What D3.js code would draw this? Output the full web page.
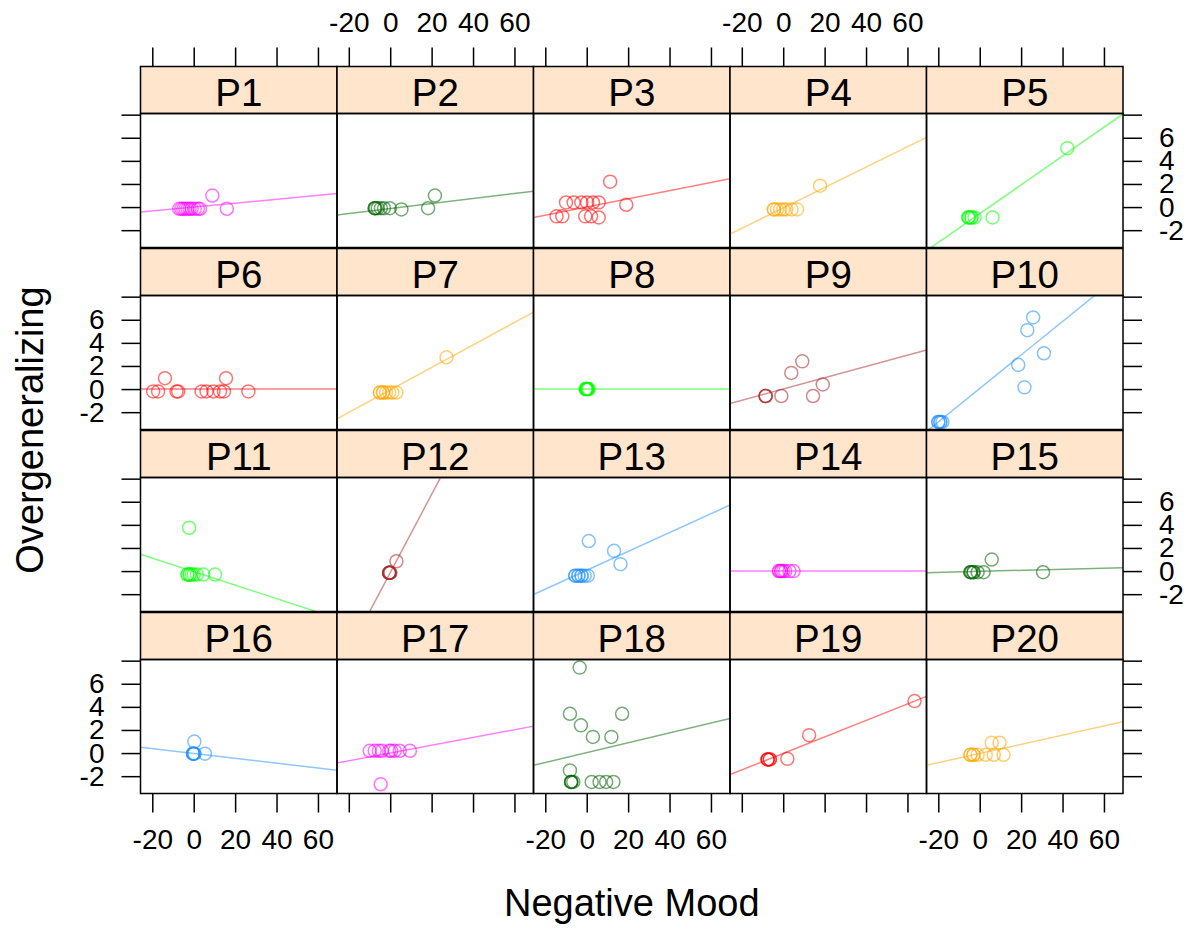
<!DOCTYPE html>
<html>
<head>
<meta charset="utf-8">
<script src="https://cdn.jsdelivr.net/npm/d3@7"></script>
<style>
  body { margin: 0; background: #fff; }
  text { font-family: "Liberation Sans", Arial, sans-serif; }
</style>
</head>
<body>
<script>
var panelNames = ["P1","P2","P3","P4","P5","P6","P7","P8","P9","P10",
                  "P11","P12","P13","P14","P15","P16","P17","P18","P19","P20"];

var panelColors = ["#FF00FF","#006400","#FF0000","#FFA500","#00FF00",
                   "#FF0000","#FFA500","#00FF00","#A52A2A","#1E90FF",
                   "#00FF00","#A52A2A","#1E90FF","#FF00FF","#006400",
                   "#1E90FF","#FF00FF","#006400","#FF0000","#FFA500"];

// negative mood (x) per participant
var negMood = [
  [-7,-6,-5,-4,-3,-2,-1,0.5,2,3,9,16],
  [-7.5,-7.5,-7,-6,-4.5,-3,-0.2,5.4,18.3,21.6],
  [-14.6,-11.8,-10,-6.3,-2.6,-0.7,0.2,2.1,3,5.8,5.8,11.3,19.1],
  [-4.5,-4.5,-3,-1.5,0,1.5,4,6.7,17.8],
  [-5.5,-5.5,-5,-4,-4,-2.5,6.2,42.3],
  [-19.6,-17.2,-13.9,-8.3,-7.5,3.8,6.2,9.5,12.7,14.6,15.6,26.4],
  [-5,-5,-3.5,-3.5,-2,-0.5,1,3,27.2],
  [-0.5,-0.5,0,0,0,0.5,0.5,1],
  [-8.5,-8.5,-8.5,-0.9,3.9,9.2,14.4,19.1],
  [-20,-20,-19,-19,-18,18.6,21.6,23,25.8,31],
  [-2.2,-3,-3,-2,-2,-1,0,1.5,4.6,10.3],
  [-0.5,-0.5,-0.5,-0.5,0,0,3],
  [-5.5,-5.5,-4,-4,-2.5,-2.5,-1,0.5,1,13.2,16.3],
  [-2,-2,-1,-1,0,1,3,5],
  [-4.5,-4.5,-4,-3,-3,-1,1.9,5.8,30.6],
  [-0.3,-0.3,-0.3,0.3,0.3,0.3,5.4],
  [-9.9,-7.5,-5.5,-4,-0.5,0.5,2.2,4.6,9.5,-4.6],
  [-3.4,-8.1,-2.8,3,11.9,17.1,-8.1,-7.5,-7.5,-7.5,-6.5,2.4,6.2,9.4,12.9],
  [-7.5,-7.5,-7.5,-6.5,-6.5,2,12.5,63.4],
  [-4.5,-4.5,-3,-3,-1,2.9,6.8,11.5,5.8,9.6]
];

// overgeneralizing (y) per participant
var overgen = [
  [-0.15,-0.15,-0.15,-0.15,-0.15,-0.15,-0.15,-0.15,-0.15,-0.15,1.0,-0.15],
  [-0.1,-0.1,-0.1,-0.1,-0.1,-0.1,-0.1,-0.2,-0.1,1.0],
  [-0.8,-0.8,0.4,0.4,0.4,-0.8,0.4,-0.8,0.4,0.4,-0.9,2.2,0.2],
  [-0.2,-0.2,-0.2,-0.2,-0.2,-0.2,-0.2,-0.2,1.85],
  [-0.9,-0.9,-0.9,-0.9,-0.9,-0.9,-0.9,5.1],
  [-0.2,-0.2,0.94,-0.2,-0.2,-0.2,-0.2,-0.2,-0.2,-0.2,0.94,-0.2],
  [-0.3,-0.3,-0.3,-0.3,-0.3,-0.3,-0.3,-0.3,2.75],
  [0,0,0,0,0,0,0,0],
  [-0.6,-0.6,-0.6,-0.6,1.4,2.4,-0.6,0.4],
  [-2.85,-2.85,-2.85,-2.85,-2.85,2.1,0.15,5.1,6.2,3.1],
  [3.75,-0.3,-0.3,-0.3,-0.3,-0.3,-0.3,-0.3,-0.3,-0.3],
  [-0.15,-0.15,-0.15,-0.15,-0.15,-0.15,0.85],
  [-0.4,-0.4,-0.4,-0.4,-0.4,-0.4,-0.4,-0.4,2.6,1.75,0.6],
  [0,0,0,0,0,0,0,0],
  [-0.1,-0.1,-0.1,-0.1,-0.1,-0.1,-0.1,1.0,-0.1],
  [-0.05,-0.05,-0.05,-0.05,-0.05,1.0,-0.05],
  [0.2,0.2,0.2,0.2,0.2,0.2,0.2,0.2,0.2,-2.7],
  [7.4,3.4,2.4,1.4,1.4,3.4,-1.5,-2.5,-2.5,-2.5,-2.5,-2.5,-2.5,-2.5,-2.5],
  [-0.55,-0.55,-0.55,-0.55,-0.55,-0.5,1.55,4.5],
  [-0.15,-0.15,-0.15,-0.15,-0.15,-0.15,-0.15,-0.15,0.9,0.9]
];

// fitted regression line per participant
var fitSlope = [0.0169,0.0217,0.0355,0.0882,0.1247,
                0,0.0973,0,0.0488,0.145,
                -0.0584,0.339,0.0816,0,0.0045,
                -0.0211,0.0337,0.0428,0.0713,0.0397];
var fitIntercept = [0,-0.13,0,-0.07,-0.57,
                    0,-0.07,0,0,0.05,
                    -0.05,-0.14,0.07,0,-0.02,
                    -0.03,0,0.04,-0.03,-0.04];

var xTicks = [-20, 0, 20, 40, 60];
var yTickMarks = [-2, 0, 2, 4, 6, 8];

onload = function () {

  var width = 1198,
      height = 930;

  var svg = d3.select("body").append("svg")
              .attr("width", width)
              .attr("height", height);

  var left = 140.5, colW = 196.5,
      top0 = 66.5, rowStep = 182,
      stripH = 47, panelH = 134,
      nCol = 5, nRow = 4;

  var xDomain = [-25.7, 69.2],
      yDomain = [-3.5, 8.1];

  var xScale = d3.scaleLinear().domain(xDomain).range([0, colW]);
  var yScale = d3.scaleLinear().domain(yDomain).range([panelH, 0]);

  var defs = svg.append("defs");

  panelNames.forEach(function (name, i) {
    var col = i % nCol,
        row = Math.floor(i / nCol);
    var g = svg.append("g")
      .attr("transform", "translate(" + (left + col * colW) + "," + (top0 + row * rowStep) + ")");

    // strip
    g.append("rect")
      .attr("width", colW).attr("height", stripH)
      .attr("fill", "#FFE5CC")
      .attr("stroke", "#000").attr("stroke-width", 1.5);
    g.append("text")
      .attr("x", colW / 2).attr("y", 39.5)
      .attr("text-anchor", "middle")
      .attr("font-size", 38.5)
      .attr("fill", "#000")
      .text(name);

    defs.append("clipPath").attr("id", "clip" + i)
      .append("rect").attr("width", colW).attr("height", panelH);

    var p = g.append("g").attr("transform", "translate(0," + stripH + ")");
    var inner = p.append("g").attr("clip-path", "url(#clip" + i + ")");

    var pts = negMood[i].map(function (x, j) { return [x, overgen[i][j]]; });

    inner.append("line")
      .attr("x1", xScale(xDomain[0]))
      .attr("y1", yScale(fitIntercept[i] + fitSlope[i] * xDomain[0]))
      .attr("x2", xScale(xDomain[1]))
      .attr("y2", yScale(fitIntercept[i] + fitSlope[i] * xDomain[1]))
      .attr("stroke", panelColors[i])
      .attr("stroke-opacity", 0.5)
      .attr("stroke-width", 1.5);

    inner.selectAll("circle")
      .data(pts)
      .enter().append("circle")
      .attr("cx", function (d) { return xScale(d[0]); })
      .attr("cy", function (d) { return yScale(d[1]); })
      .attr("r", 6.5)
      .attr("fill", "none")
      .attr("stroke", panelColors[i])
      .attr("stroke-opacity", 0.55)
      .attr("stroke-width", 1.5);

    p.append("rect")
      .attr("width", colW).attr("height", panelH)
      .attr("fill", "none")
      .attr("stroke", "#000").attr("stroke-width", 1.5);

    // left / right axes, labels on alternate rows
    if (col == 0) {
      var la = p.append("g").call(d3.axisLeft(yScale).tickValues(yTickMarks).tickSize(19).tickPadding(17)
        .tickFormat(function (d) { return (row % 2 == 1 && d != 8) ? d : ""; }));
      styleAxis(la);
    }
    if (col == nCol - 1) {
      var ra = p.append("g").attr("transform", "translate(" + colW + ",0)")
        .call(d3.axisRight(yScale).tickValues(yTickMarks).tickSize(19).tickPadding(17)
        .tickFormat(function (d) { return (row % 2 == 0 && d != 8) ? d : ""; }));
      styleAxis(ra);
    }
    // top / bottom axes, labels on alternate columns
    if (row == 0) {
      var ta = g.append("g").call(d3.axisTop(xScale).tickValues(xTicks).tickSize(19).tickPadding(16)
        .tickFormat(function (d) { return col % 2 == 1 ? d : ""; }));
      styleAxis(ta);
    }
    if (row == nRow - 1) {
      var ba = p.append("g").attr("transform", "translate(0," + panelH + ")")
        .call(d3.axisBottom(xScale).tickValues(xTicks).tickSize(19).tickPadding(17)
        .tickFormat(function (d) { return col % 2 == 0 ? d : ""; }));
      styleAxis(ba);
    }
  });

  function styleAxis(a) {
    a.select(".domain").remove();
    a.selectAll(".tick line").attr("stroke", "#000").attr("stroke-width", 1.5);
    a.selectAll(".tick text")
      .attr("font-size", 28)
      .attr("font-family", "'Liberation Sans', Arial, sans-serif")
      .attr("fill", "#000");
  }

  svg.append("text")
    .attr("x", left + colW * nCol / 2)
    .attr("y", 916)
    .attr("text-anchor", "middle")
    .attr("font-size", 38)
    .text("Negative Mood");

  svg.append("text")
    .attr("transform", "translate(43," + (top0 + (rowStep * nRow - 1) / 2) + ") rotate(-90)")
    .attr("text-anchor", "middle")
    .attr("font-size", 38)
    .text("Overgeneralizing");
}
</script>
</body>
</html>
